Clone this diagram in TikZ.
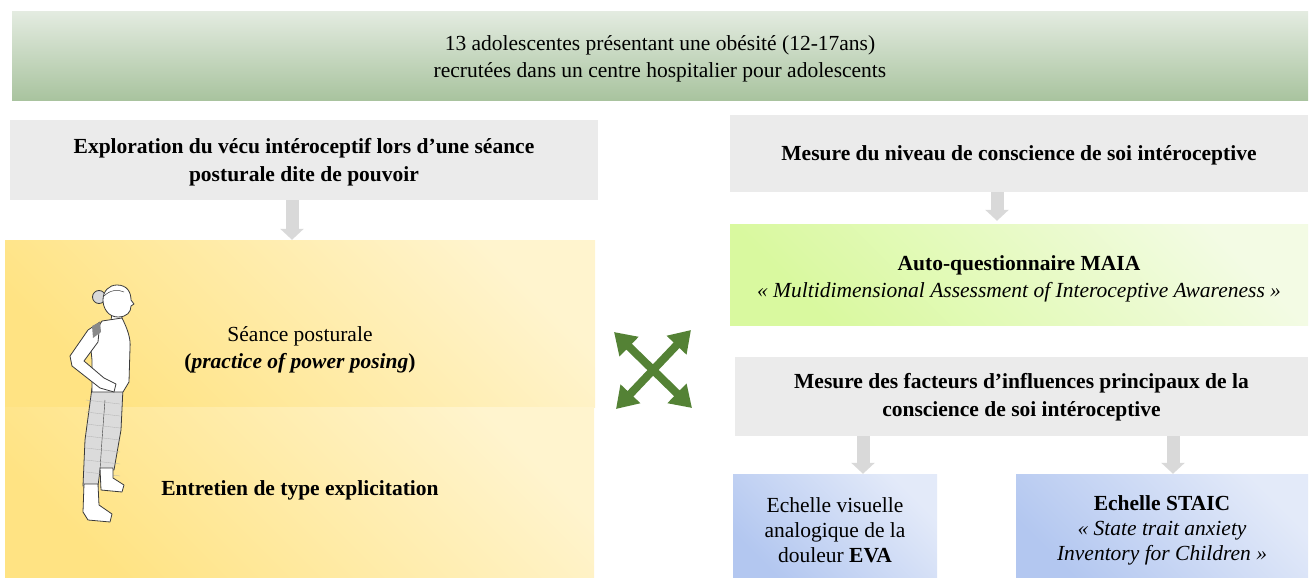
\documentclass[tikz,border=0pt]{standalone}
\usepackage{fontspec}
\setmainfont{Liberation Serif}
\usetikzlibrary{arrows.meta}
\definecolor{bannerTop}{HTML}{E3EBE0}
\definecolor{bannerBot}{HTML}{A8C39E}
\definecolor{greyBox}{HTML}{EBEBEB}
\definecolor{yelA}{HTML}{FFE383}
\definecolor{yelB}{HTML}{FFF4CE}
\definecolor{grnA}{HTML}{D9F99F}
\definecolor{grnB}{HTML}{F3FBE4}
\definecolor{bluA}{HTML}{B3C7F0}
\definecolor{bluB}{HTML}{E3EAF9}
\definecolor{arrGrey}{HTML}{D9D9D9}
\definecolor{crossGreen}{HTML}{548235}
\definecolor{inkFig}{HTML}{3A3A3A}
\tikzset{
  boxbase/.style={inner sep=0pt, align=center},
  txt/.style={inner sep=0pt, align=center, font=\fontsize{21.5}{27}\selectfont},
  btxt/.style={txt, font=\fontsize{21.5}{27.5}\selectfont\bfseries},
  greybox/.style={boxbase, fill=greyBox},
  yelbox/.style={boxbase, left color=yelA, right color=yelB, shading angle=135},
  grnbox/.style={boxbase, left color=grnA, right color=grnB, shading angle=135},
  blubox/.style={boxbase, left color=bluA, right color=bluB, shading angle=135},
  flowarrow/.style={draw=arrGrey, line width=13pt, -{Triangle[length=11pt,width=23pt]}},
  crossarrow/.style={draw=crossGreen, line width=8pt, {Triangle[length=21pt,width=26pt]}-{Triangle[length=21pt,width=26pt]}},
  figpart/.style={draw=inkFig, fill=white, line width=0.8pt, line join=round},
}
\begin{document}
\begin{tikzpicture}[x=1pt,y=-1pt]
\useasboundingbox (0,0) rectangle (1310,578);
% banner
\node[boxbase, top color=bannerTop, bottom color=bannerBot, minimum width=1296pt, minimum height=89pt] (banner) at (660,56.5) {};
\node[txt] (bannerT) at (660,59)
  {13 adolescentes présentant une obésité (12-17ans)\\recrutées dans un centre hospitalier pour adolescents};
% left column
\node[greybox, minimum width=588pt, minimum height=80pt] (g1) at (304,160) {};
\node[btxt] (g1T) at (304,162) {Exploration du vécu intéroceptif lors d’une séance\\posturale dite de pouvoir};
\node[yelbox, minimum width=590pt, minimum height=167pt] (yt) at (300,323.5) {};
\node[yelbox, minimum width=589pt, minimum height=171pt] (yb) at (299.5,492.5) {};
\node[txt] (seance) at (300,350) {Séance posturale\\\textbf{(\textit{practice of power posing})}};
\node[btxt] (entretien) at (300,490) {Entretien de type explicitation};
% right column
\node[greybox, minimum width=578pt, minimum height=77pt] (g2) at (1019,153.5) {};
\node[btxt] (g2T) at (1019,155) {Mesure du niveau de conscience de soi intéroceptive};
\node[grnbox, minimum width=578pt, minimum height=101pt] (maia) at (1019,274.5) {};
\node[txt] (maiaT) at (1019,278.5)
  {\textbf{Auto-questionnaire MAIA}\\\textit{« Multidimensional Assessment of Interoceptive Awareness »}};
\node[greybox, minimum width=573pt, minimum height=79pt] (g3) at (1021.5,396.5) {};
\node[btxt] (g3T) at (1021.5,397)
  {Mesure des facteurs d’influences principaux de la\\conscience de soi intéroceptive};
\node[blubox, minimum width=204pt, minimum height=104pt] (eva) at (835,526) {};
\node[txt, font=\fontsize{21.5}{25}\selectfont] (evaT) at (835,530)
  {Echelle visuelle\\analogique de la\\douleur \textbf{EVA}};
\node[blubox, minimum width=292pt, minimum height=104pt] (staic) at (1162,526) {};
\node[txt, font=\fontsize{21.5}{25}\selectfont] (staicT) at (1162,530)
  {\textbf{Echelle STAIC}\\\textit{« State trait anxiety}\\\textit{Inventory for Children »}};
% flow arrows
\draw[flowarrow] ([xshift=-12pt]g1.south) -- ([xshift=-12pt]g1.south |- yt.north);
\draw[flowarrow] ([xshift=-22pt]g2.south) -- ([xshift=-22pt,yshift=3pt]g2.south |- maia.north);
\draw[flowarrow] ([xshift=-158.5pt]g3.south) -- ([xshift=-158.5pt]g3.south |- eva.north);
\draw[flowarrow] ([xshift=151.5pt]g3.south) -- ([xshift=151.5pt]g3.south |- staic.north);
% cross arrows
\coordinate (c1) at (614,332);
\coordinate (c2) at (692,408);
\coordinate (c3) at (691,330);
\coordinate (c4) at (616,409);
\draw[crossarrow] (c1) -- (c2);
\draw[crossarrow] (c3) -- (c4);
% figure
\begin{scope}
\draw[figpart, fill=gray!30] (99,297) circle (6.5);
\draw[figpart] (112,314) -- (121,312) -- (123,324) -- (110,326) -- cycle;
\draw[figpart] (117,285) .. controls (127,285) and (131,292) .. (131,300)
  -- (134,304) -- (131,306) .. controls (131,312) and (127,317) .. (118,317)
  .. controls (108,317) and (103,308) .. (103,300) .. controls (103,291) and (109,285) .. (117,285) -- cycle;
\draw[inkFig, line width=0.5pt] (104,296) .. controls (110,290) and (118,289) .. (124,292);
% pants
\draw[figpart, fill=gray!28] (92,388) -- (123,388) -- (121,430) -- (114,470) -- (100,470) -- (98,486) -- (83,486) -- (85,440) -- cycle;
\draw[draw=inkFig, line width=0.4pt] (105,400) -- (102,440) -- (100,470);
\foreach \yy in {400,412,...,472} { \draw[gray!60, line width=0.3pt] (86,\yy) -- (120,\yy+4); }
% boots
\draw[figpart] (100,468) -- (113,468) -- (113,478) -- (124,485) -- (122,492) -- (101,490) -- cycle;
\draw[figpart] (84,484) -- (98,484) -- (99,505) -- (112,514) -- (110,522) -- (88,520) -- (83,512) -- cycle;
% torso
\draw[figpart] (102,321) -- (122,318) .. controls (127,328) and (131,338) .. (130,348)
  -- (129,382) -- (123,392) -- (92,392) -- (92,360) -- (90,340) -- cycle;
% arm
\draw[figpart] (100,322) -- (88,330) -- (70,356) -- (72,366) -- (100,388) -- (114,392) -- (116,384) -- (104,378) -- (84,361) -- (98,342) -- cycle;
\fill[inkFig!60] (92,326) -- (100,322) -- (101,332) -- (93,338) -- cycle;
\end{scope}
\end{tikzpicture}
\end{document}
